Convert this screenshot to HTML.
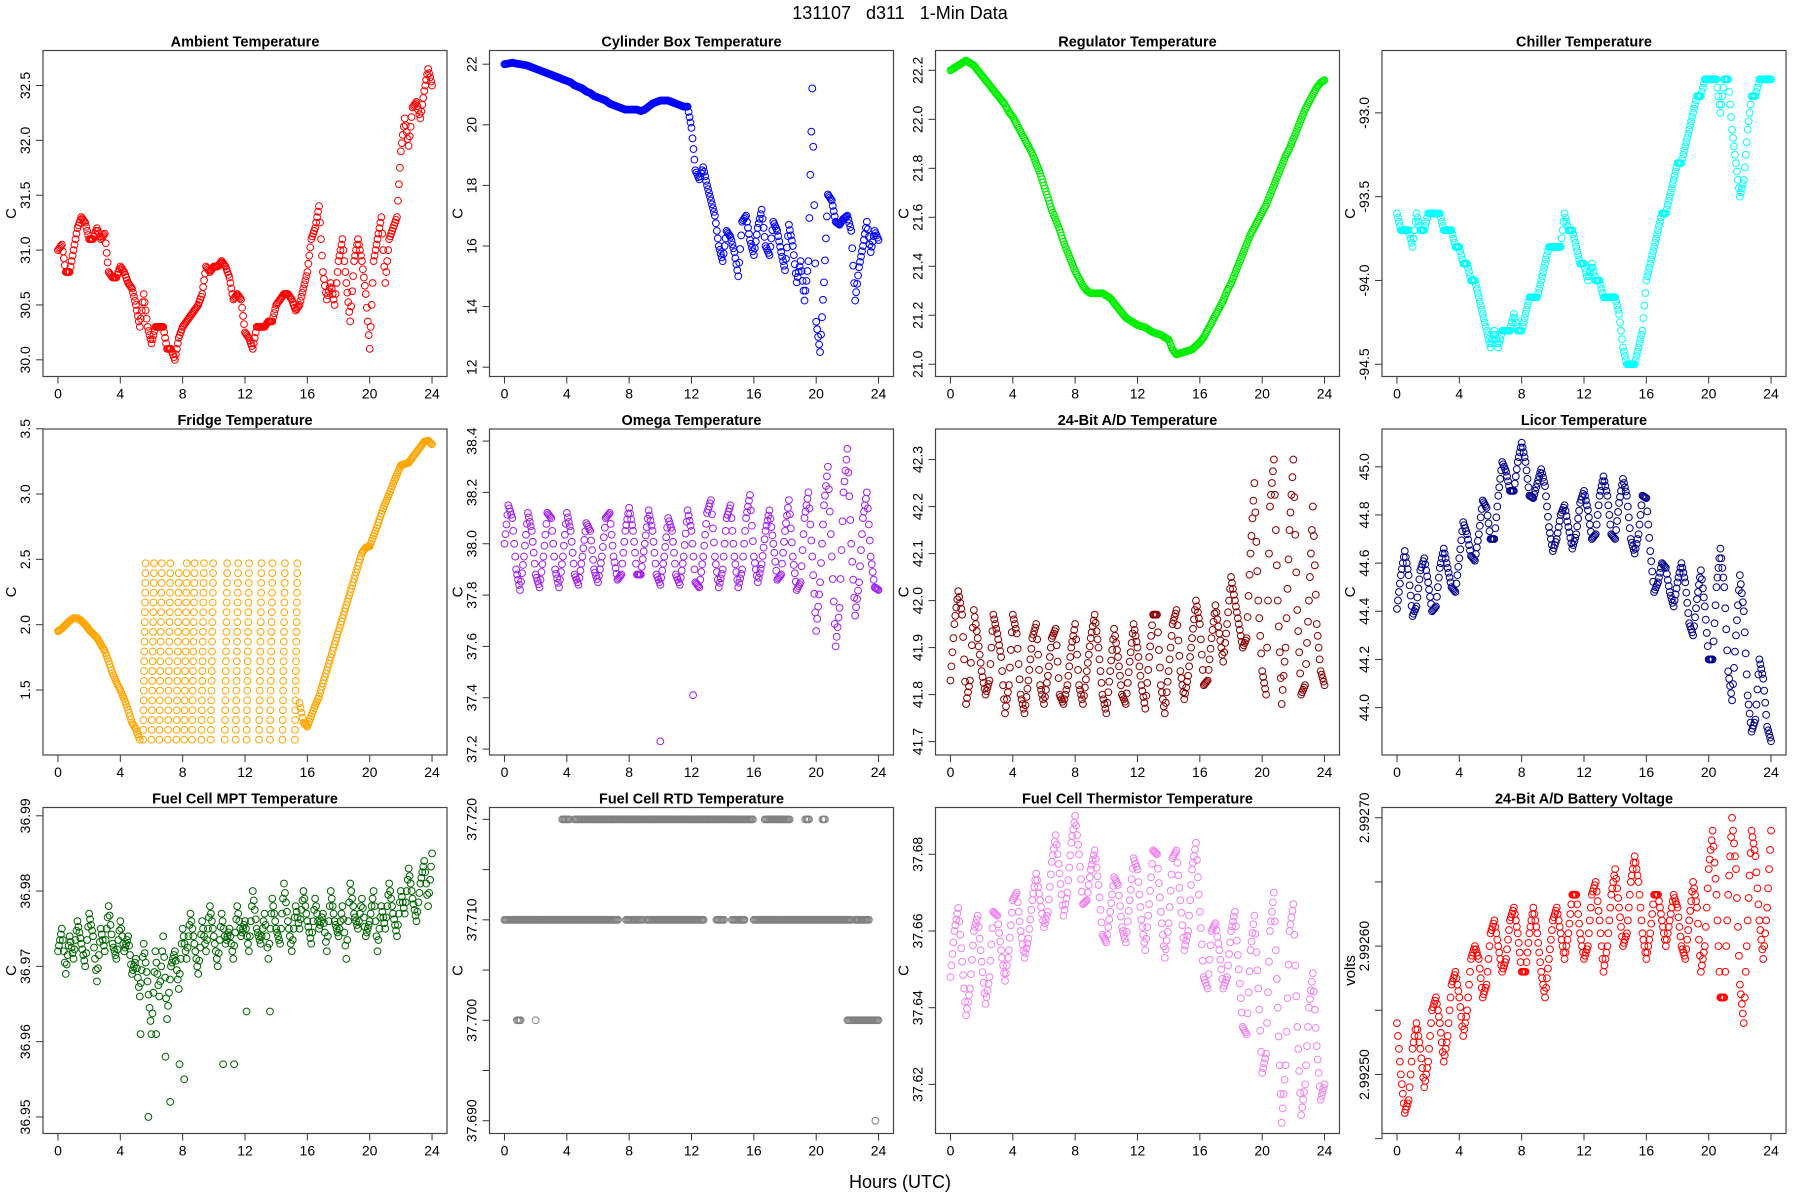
<!DOCTYPE html>
<html><head><meta charset="utf-8"><title>131107 d311 1-Min Data</title>
<style>
html,body{margin:0;padding:0;background:#fff;}
svg{display:block;font-family:"Liberation Sans",Arial,sans-serif;}
</style></head>
<body>
<svg id="chart" xmlns="http://www.w3.org/2000/svg" width="1800" height="1200" viewBox="0 0 1800 1200">
<rect x="0" y="0" width="1800" height="1200" fill="#fff"/>
<text x="900" y="19" text-anchor="middle" font-size="18" fill="#000" xml:space="preserve">131107   d311   1-Min Data</text>
<text x="900" y="1188" text-anchor="middle" font-size="18" fill="#000">Hours (UTC)</text>
</svg>
<script>
// ---- data (values sampled evenly over 0..24 h unless noted) ----
const hourTicks = [0,4,8,12,16,20,24];

const ambientVals = [31.0,31.05,30.8,30.8,31.0,31.2,31.3,31.25,31.1,31.1,31.2,31.1,31.15,30.8,30.75,30.75,30.85,30.8,30.7,30.65,30.5,30.3,30.6,30.3,30.15,30.3,30.3,30.3,30.1,30.1,30.0,30.2,30.3,30.35,30.4,30.45,30.5,30.6,30.85,30.8,30.85,30.85,30.9,30.85,30.75,30.55,30.6,30.55,30.25,30.2,30.1,30.3,30.3,30.3,30.35,30.35,30.5,30.55,30.6,30.6,30.55,30.45,30.5,30.65,30.8,31.1,31.2,31.4,30.8,30.55,30.7,30.5,30.9,31.1,30.7,30.35,30.9,31.1,30.9,30.6,30.1,30.9,31.1,31.3,30.7,31.1,31.2,31.3,31.9,32.2,31.95,32.3,32.35,32.2,32.45,32.65,32.5];
const ambientTicks = [30.0,30.5,31.0,31.5,32.0,32.5];

const cylinderVals = [22.0,22.02,22.05,22.02,22.0,21.98,21.95,21.9,21.85,21.8,21.75,21.7,21.65,
21.6,21.55,21.5,21.45,21.4,21.3,21.25,21.2,21.1,21.05,20.95,20.9,20.85,20.8,20.7,20.65,20.6,20.55,20.5,20.5,
20.5,20.5,20.45,20.5,20.6,20.7,20.75,20.8,20.8,20.8,20.75,20.7,20.65,20.6,20.6,19.9,
18.5,18.2,18.6,18.0,17.5,17.0,16.0,15.5,16.5,16.3,15.8,15.0,16.8,17.0,16.2,15.7,16.6,17.2,16.0,15.7,16.8,16.5,15.8,15.2,16.7,16.0,14.8,15.5,14.2,15.5,21.2,13.5,12.5,14.8,17.7,17.5,16.8,16.7,16.9,17.0,16.5,14.2,15.3,16.0,16.8,15.8,16.5,16.2];
const cylinderTicks = [12,14,16,18,20,22];

const regulatorVals = [22.20,22.21,22.22,22.23,22.24,22.23,22.22,22.2,22.18,22.16,22.14,22.12,22.1,22.08,22.06,22.03,22.01,21.98,21.95,21.92,21.89,21.86,21.82,21.78,21.73,21.68,21.63,21.59,21.55,21.5,21.46,21.42,21.38,21.35,21.32,21.3,21.29,21.29,21.29,21.29,21.28,21.27,21.25,21.23,21.21,21.19,21.18,21.17,21.16,21.155,21.15,21.14,21.13,21.125,21.12,21.11,21.1,21.06,21.04,21.045,21.05,21.055,21.06,21.075,21.09,21.11,21.14,21.17,21.2,21.23,21.26,21.3,21.33,21.37,21.41,21.45,21.49,21.53,21.56,21.59,21.62,21.65,21.69,21.73,21.77,21.81,21.85,21.88,21.92,21.96,22.0,22.04,22.07,22.1,22.13,22.15,22.16];
const regulatorTicks = [21.0,21.2,21.4,21.6,21.8,22.0,22.2];

const chillerVals = [-93.6,-93.7,-93.7,-93.7,-93.8,-93.6,-93.7,-93.7,-93.6,-93.6,-93.6,-93.6,-93.7,-93.7,-93.7,-93.8,-93.8,-93.9,-93.9,-94.0,-94.0,-94.1,-94.2,-94.3,-94.4,-94.3,-94.4,-94.3,-94.3,-94.3,-94.2,-94.3,-94.3,-94.2,-94.1,-94.1,-94.1,-94.0,-93.9,-93.8,-93.8,-93.8,-93.8,-93.6,-93.7,-93.7,-93.8,-93.9,-93.9,-94.0,-93.9,-94.0,-94.0,-94.1,-94.1,-94.1,-94.1,-94.2,-94.4,-94.5,-94.5,-94.5,-94.4,-94.3,-94.0,-93.9,-93.8,-93.7,-93.6,-93.6,-93.5,-93.4,-93.3,-93.3,-93.2,-93.1,-93.0,-92.9,-92.9,-92.8,-92.8,-92.8,-92.8,-93.0,-92.8,-92.8,-93.1,-93.3,-93.5,-93.4,-93.1,-92.9,-92.9,-92.8,-92.8,-92.8,-92.8];
const chillerTicks = [-94.5,-94.0,-93.5,-93.0];

const fridgeEarly = [1.95,1.97,2.0,2.03,2.05,2.05,2.03,2.0,1.96,1.93,1.9,1.85,1.8,1.72,1.63,1.56,1.5,1.43,1.35,1.25,1.2,1.12]; // from 0 h, every 0.25 h
const fridgeLate = [1.4,1.25,1.22,1.3,1.38,1.45,1.55,1.65,1.75,1.85,1.95,2.05,2.15,2.25,2.35,2.45,2.55,2.59,2.6,2.68,2.76,2.85,2.93,3.0,3.08,3.15,3.22,3.23,3.24,3.28,3.32,3.36,3.4,3.41,3.38]; // from 15.5 h
const fridgeCycleHours = [5.46,6.0,6.5,7.05,7.6,8.1,8.6,9.2,9.8,10.7,11.4,12.1,12.9,13.6,14.4,15.2];
const fridgeCycleTops = [2.5,2.48,2.47,2.47,2.46,2.48,2.49,2.5,2.5,2.5,2.5,2.5,2.5,2.5,2.5,2.5];
const fridgeCycleBottom = 1.12;
const fridgeTicks = [1.5,2.0,2.5,3.0,3.5];

const omegaVals = [38.0,38.15,38.1,37.9,37.82,37.95,38.12,38.05,37.88,37.83,37.95,38.12,38.1,37.9,37.83,37.95,38.12,38.05,37.88,37.84,37.95,38.08,38.05,37.9,37.85,37.95,38.1,38.12,37.95,37.86,37.88,38.05,38.14,38.05,37.88,37.88,38.0,38.13,38.05,37.88,37.84,37.95,38.1,38.05,37.88,37.84,37.95,38.13,38.05,37.85,37.83,37.95,38.12,38.17,37.95,37.83,37.9,38.1,38.15,37.95,37.83,37.9,38.1,38.19,37.95,37.85,37.92,38.05,38.13,38.0,37.86,37.88,38.05,38.17,37.95,37.82,37.85,38.1,38.2,37.95,37.66,37.85,38.15,38.3,37.95,37.6,37.75,38.2,38.37,38.0,37.72,37.85,38.1,38.2,37.95,37.83,37.82];
const omegaOutHours = [10.0,12.1];
const omegaOutVals = [37.23,37.41];
const omegaTicks = [37.2,37.4,37.6,37.8,38.0,38.2,38.4];

const adVals = [41.83,41.95,42.02,41.97,41.78,41.83,41.98,41.92,41.85,41.8,41.83,41.97,41.93,41.88,41.76,41.82,41.97,41.93,41.8,41.76,41.83,41.92,41.95,41.82,41.78,41.84,41.92,41.94,41.8,41.78,41.82,41.9,41.95,41.82,41.78,41.85,41.92,41.97,41.9,41.8,41.76,41.85,41.94,41.88,41.8,41.78,41.87,41.95,41.9,41.82,41.77,41.88,41.97,41.97,41.82,41.76,41.85,41.95,41.98,41.85,41.79,41.84,41.92,42.0,41.95,41.82,41.83,41.92,41.99,41.93,41.87,41.95,42.05,42.0,41.95,41.9,41.92,42.1,42.25,42.0,41.85,41.8,42.2,42.3,42.0,41.78,41.9,42.15,42.3,41.98,41.8,41.82,42.0,42.2,41.95,41.85,41.82];
const adTicks = [41.7,41.8,41.9,42.0,42.1,42.2,42.3];

const licorVals = [44.41,44.55,44.65,44.55,44.38,44.42,44.57,44.62,44.52,44.4,44.42,44.58,44.66,44.58,44.5,44.48,44.62,44.77,44.72,44.63,44.61,44.72,44.86,44.83,44.7,44.7,44.88,45.02,44.98,44.9,44.9,45.02,45.1,45.02,44.88,44.87,44.93,44.99,44.92,44.75,44.65,44.7,44.8,44.84,44.75,44.66,44.72,44.85,44.9,44.82,44.7,44.72,44.88,44.96,44.88,44.72,44.7,44.85,44.95,44.88,44.7,44.64,44.72,44.88,44.87,44.65,44.48,44.52,44.6,44.58,44.48,44.42,44.52,44.6,44.52,44.35,44.3,44.45,44.57,44.42,44.2,44.2,44.5,44.66,44.5,44.15,44.03,44.3,44.55,44.4,44.05,43.9,43.95,44.2,44.12,43.92,43.86];
const licorTicks = [44.0,44.2,44.4,44.6,44.8,45.0];

const mptVals = [36.972,36.975,36.969,36.974,36.971,36.976,36.973,36.970,36.977,36.974,36.968,36.975,36.972,36.978,36.973,36.971,36.976,36.972,36.974,36.969,36.971,36.966,36.973,36.968,36.961,36.972,36.966,36.974,36.963,36.970,36.972,36.967,36.975,36.971,36.977,36.973,36.969,36.976,36.972,36.978,36.974,36.970,36.977,36.973,36.975,36.971,36.978,36.974,36.976,36.972,36.980,36.975,36.973,36.977,36.971,36.979,36.975,36.973,36.981,36.976,36.972,36.978,36.975,36.980,36.976,36.973,36.979,36.975,36.977,36.972,36.980,36.976,36.974,36.978,36.971,36.981,36.977,36.975,36.979,36.974,36.976,36.980,36.972,36.978,36.975,36.981,36.977,36.974,36.980,36.977,36.983,36.979,36.976,36.981,36.984,36.978,36.985];
const mptOutHours = [5.8,6.3,6.9,7.2,7.8,8.1,10.6,11.3,12.1,5.3,13.6];
const mptOutVals = [36.950,36.961,36.958,36.952,36.957,36.955,36.957,36.957,36.964,36.961,36.964];
const mptTicks = [36.95,36.96,36.97,36.98,36.99];

const rtdRunStart = [0,7.8,9.1,13.6,14.6,16.0,22.5,3.7,4.5,16.7,19.3,20.4,0.8,2.0,22.0,23.8];
const rtdRunEnd   = [7.3,8.9,12.8,14.1,15.4,22.3,23.4,4.2,16.0,18.3,19.6,20.6,1.1,2.0,24.0,23.8];
const rtdRunLevel = [37.71,37.71,37.71,37.71,37.71,37.71,37.71,37.72,37.72,37.72,37.72,37.72,37.70,37.70,37.70,37.69];
const rtdTicks = [37.690,37.695,37.700,37.705,37.710,37.715,37.720];
const rtdTickLabels = ["37.690","","37.700","","37.710","","37.720"];

const thermVals = [37.648,37.66,37.666,37.652,37.638,37.645,37.66,37.664,37.652,37.641,37.648,37.665,37.664,37.655,37.647,37.655,37.668,37.67,37.66,37.653,37.658,37.668,37.675,37.668,37.661,37.665,37.678,37.685,37.675,37.664,37.67,37.683,37.69,37.68,37.667,37.668,37.676,37.681,37.672,37.659,37.657,37.665,37.674,37.672,37.661,37.657,37.668,37.679,37.676,37.663,37.655,37.667,37.681,37.68,37.665,37.653,37.662,37.679,37.681,37.668,37.655,37.66,37.676,37.683,37.665,37.648,37.645,37.66,37.662,37.655,37.645,37.648,37.66,37.665,37.65,37.635,37.633,37.655,37.664,37.645,37.623,37.628,37.66,37.67,37.64,37.61,37.625,37.66,37.667,37.635,37.612,37.62,37.64,37.649,37.63,37.616,37.62];
const thermTicks = [37.62,37.64,37.66,37.68];

const batteryVals = [2.99254,2.99250,2.99247,2.99248,2.99252,2.99254,2.99252,2.99249,2.99251,2.99255,2.99256,2.99254,2.99251,2.99253,2.99257,2.99258,2.99256,2.99253,2.99255,2.99259,2.99260,2.99259,2.99256,2.99257,2.99261,2.99262,2.99260,2.99258,2.99259,2.99262,2.99263,2.99261,2.99258,2.99258,2.99261,2.99263,2.99261,2.99258,2.99256,2.99259,2.99262,2.99263,2.99261,2.99259,2.99261,2.99264,2.99264,2.99261,2.99259,2.99260,2.99264,2.99265,2.99262,2.99258,2.99260,2.99264,2.99266,2.99263,2.99260,2.99261,2.99265,2.99267,2.99265,2.99261,2.99259,2.99261,2.99264,2.99264,2.99262,2.99260,2.99262,2.99264,2.99263,2.99260,2.99259,2.99262,2.99265,2.99263,2.99258,2.99260,2.99266,2.99269,2.99264,2.99256,2.99256,2.99264,2.99270,2.99266,2.99257,2.99254,2.99262,2.99269,2.99267,2.99262,2.99259,2.99263,2.99269];
const batteryTicks = [2.99245,2.99250,2.99255,2.99260,2.99265,2.99270];
const batteryTickLabels = ["","2.99250","","2.99260","","2.99270"];

// ---- layout ----
const NS = "http://www.w3.org/2000/svg";
const svg = document.getElementById('chart');
const colLeft = [43, 489.5, 935.5, 1382];
const rowTop = [50.5, 429, 807.5];
const PW = 404, PH = 326;
const SUB = 4; // rendering sub-steps between consecutive samples (1 = samples only)

function mk(tag, attrs, parent){
  const e = document.createElementNS(NS, tag);
  for (const k in attrs) e.setAttribute(k, attrs[k]);
  (parent||svg).appendChild(e);
  return e;
}

function makePanel(col, row, title, ylab, lo, hi, ticks, tickLabels, color, slug){
  const left = colLeft[col], top = rowTop[row];
  const g = mk('g', {});
  
  
  const pad = PW * 0.04 / 1.08;
  const xs = h => left + pad + h / 24 * (PW - 2 * pad);
  const ys = v => top + (hi - v) / (hi - lo) * PH;
  const t = mk('text', {x: left + PW/2, y: top - 4, 'text-anchor':'middle', 'font-size':'14.5', 'font-weight':'bold', fill:'#000'}, g);
  t.textContent = title;
  
  
  const yl = mk('text', {x: left - 27, y: top + PH/2, 'text-anchor':'middle', 'font-size':'15', fill:'#000', transform:`rotate(-90 ${left-27} ${top+PH/2})`}, g);
  yl.textContent = ylab;
  
  
  const xa = mk('g', {}, g);
  
  
  mk('line', {x1: xs(0), x2: xs(24), y1: top+PH, y2: top+PH, stroke:'#333', 'stroke-width':1}, xa);
  hourTicks.forEach(h => {
    mk('line', {x1: xs(h), x2: xs(h), y1: top+PH, y2: top+PH+7, stroke:'#333', 'stroke-width':1}, xa);
    const lb = mk('text', {x: xs(h), y: top+PH+22, 'text-anchor':'middle', 'font-size':'14', fill:'#000'}, xa);
    lb.textContent = h;
    
    
  });
  const ya = mk('g', {}, g);
  
  
  mk('line', {x1: left, x2: left, y1: ys(ticks[0]), y2: ys(ticks[ticks.length-1]), stroke:'#333', 'stroke-width':1}, ya);
  ticks.forEach((v, i) => {
    const y = ys(v);
    mk('line', {x1: left-7, x2: left, y1: y, y2: y, stroke:'#333', 'stroke-width':1}, ya);
    const s = tickLabels ? tickLabels[i] : v.toFixed(1);
    if (s) {
      const lb = mk('text', {x: left-13, y: y, 'text-anchor':'middle', 'font-size':'14', fill:'#000', transform:`rotate(-90 ${left-13} ${y})`}, ya);
      lb.textContent = s;
      
      
    }
  });
  const box = mk('rect', {x: left, y: top, width: PW, height: PH, fill:'none', stroke:'#444', 'stroke-width':1.2}, g);
  
  
  const pts = mk('g', {fill:'none', stroke: color, 'stroke-width':1}, g);
  
  
  const dot = (h, v) => {
    const c = mk('circle', {cx: xs(h).toFixed(2), cy: ys(v).toFixed(2), r: 3.4}, pts);
    
    
  };
  const series = (vals, start, span) => {
    const n = vals.length;
    const step = n > 1 ? span / (n - 1) : 0;
    vals.forEach((v, i) => {
      const h = start + i * step;
      dot(h, v);
      if (i < n - 1) {
        for (let k = 1; k < SUB; k++) {
          const f = k / SUB;
          dot(h + f * step, v + f * (vals[i+1] - v));
        }
      }
    });
  };
  return {dot, series, xs, ys};
}

const fmt = d => (v => v.toFixed(d));
const lbl = (arr, d) => arr.map(fmt(d));

// Row 1
makePanel(0,0,'Ambient Temperature','C',29.848,32.819,ambientTicks,lbl(ambientTicks,1),'#FF0000','ambient').series(ambientVals,0,24);
makePanel(1,0,'Cylinder Box Temperature','C',11.693,22.452,cylinderTicks,lbl(cylinderTicks,0),'#0000FF','cylinder-box').series(cylinderVals,0,24);
makePanel(2,0,'Regulator Temperature','C',20.950,22.281,regulatorTicks,lbl(regulatorTicks,1),'#00EE00','regulator').series(regulatorVals,0,24);
makePanel(3,0,'Chiller Temperature','C',-94.573,-92.628,chillerTicks,lbl(chillerTicks,1),'#00FFFF','chiller').series(chillerVals,0,24);

// Row 2
const fp = makePanel(0,1,'Fridge Temperature','C',1.0025,3.498,fridgeTicks,lbl(fridgeTicks,1),'#FFA500','fridge');
fp.series(fridgeEarly,0,(fridgeEarly.length-1)*0.25);
fp.series(fridgeLate,15.5,(fridgeLate.length-1)*0.25);
fridgeCycleHours.forEach((h,i) => {
  for (let v = fridgeCycleBottom; v <= fridgeCycleTops[i] + 1e-9; v += 0.075) fp.dot(h + (v - fridgeCycleBottom) * 0.12, v);
});
const op = makePanel(1,1,'Omega Temperature','C',37.177,38.447,omegaTicks,lbl(omegaTicks,1),'#A020F0','omega');
op.series(omegaVals,0,24);
omegaOutHours.forEach((h,i) => op.dot(h, omegaOutVals[i]));
makePanel(2,1,'24-Bit A/D Temperature','C',41.6715,42.365,adTicks,lbl(adTicks,1),'#8B0000','ad-temperature').series(adVals,0,24);
makePanel(3,1,'Licor Temperature','C',43.803,45.157,licorTicks,lbl(licorTicks,1),'#00008B','licor').series(licorVals,0,24);

// Row 3
const mp = makePanel(0,2,'Fuel Cell MPT Temperature','C',36.9478,36.9911,mptTicks,lbl(mptTicks,2),'#006400','fuel-cell-mpt');
mp.series(mptVals,0,24);
mptOutHours.forEach((h,i) => mp.dot(h, mptOutVals[i]));
const rp = makePanel(1,2,'Fuel Cell RTD Temperature','C',37.68873,37.72118,rtdTicks,rtdTickLabels,'#808080','fuel-cell-rtd');
rtdRunStart.forEach((s,i) => {
  const e = rtdRunEnd[i];
  if (e - s < 0.01) { rp.dot(s, rtdRunLevel[i]); return; }
  for (let h = s; h <= e + 1e-9; h += 0.08) rp.dot(h, rtdRunLevel[i]);
});
makePanel(2,2,'Fuel Cell Thermistor Temperature','C',37.6072,37.6922,thermTicks,lbl(thermTicks,2),'#EE82EE','fuel-cell-thermistor').series(thermVals,0,24);
makePanel(3,2,'24-Bit A/D Battery Voltage','volts',2.992454,2.992708,batteryTicks,batteryTickLabels,'#FF0000','battery-voltage').series(batteryVals,0,24);
</script>
</body></html>
